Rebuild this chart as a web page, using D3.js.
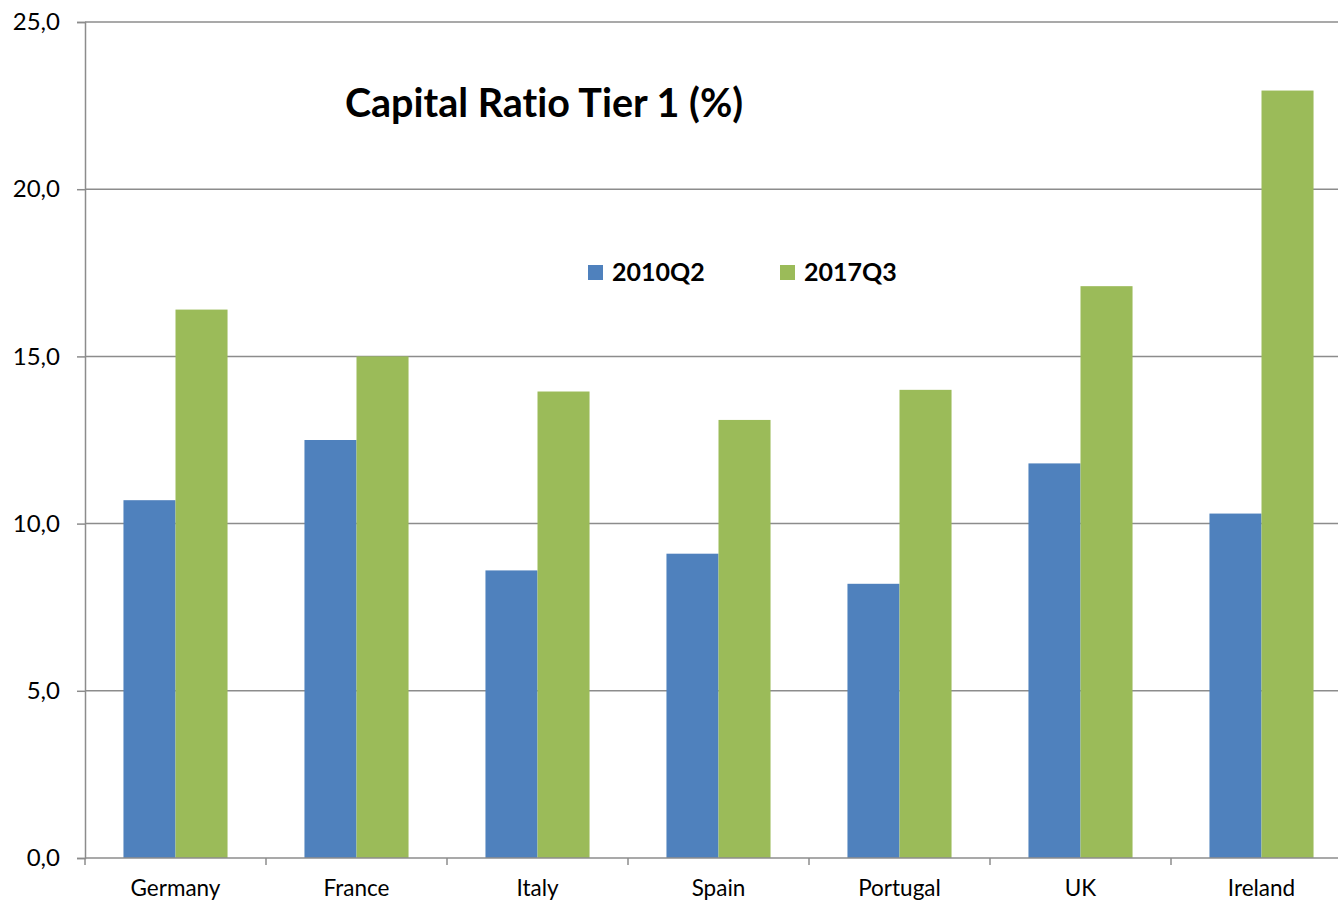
<!DOCTYPE html>
<html><head><meta charset="utf-8">
<script src="https://cdn.jsdelivr.net/npm/d3@7"></script>
<style>body{margin:0;background:#fff;}svg{display:block;font-family:Lato,"Open Sans",sans-serif;font-variant-ligatures:none;}</style>
</head><body>
<svg id="c" width="1338" height="902"></svg>
<script>
const categories = ["Germany","France","Italy","Spain","Portugal","UK","Ireland"];
const series2010Q2 = [10.7,12.5,8.6,9.1,8.2,11.8,10.3];
const series2017Q3 = [16.4,15.0,13.95,13.1,14.0,17.1,22.95];
const seriesNames = ["2010Q2","2017Q3"];
const seriesColors = ["#4f81bd","#9bbb59"];
const yTicks = [0,5,10,15,20,25];

const svg = d3.select("#c");
const pLeft = 85, pRight = 1352, pTop = 22, pBottom = 858;
const x = d3.scaleBand().domain(categories).range([pLeft,pRight]).paddingInner(0.425).paddingOuter(0.2125);
const xs = d3.scaleBand().domain(seriesNames).range([0,x.bandwidth()]);
const y = d3.scaleLinear().domain([0,25]).range([pBottom,pTop]);
const fmt = v => d3.format(".1f")(v).replace(".",",");

// gridlines
svg.append("g").selectAll("line").data(yTicks.filter(d=>d>0)).join("line")
  .attr("x1",pLeft).attr("x2",pRight).attr("y1",d=>y(d)).attr("y2",d=>y(d))
  .attr("stroke","#8c8c8c").attr("stroke-width",1.5);

// bars
const data = categories.map((c,i)=>({c, vals:[series2010Q2[i],series2017Q3[i]]}));
const g = svg.append("g");
data.forEach(d=>{
  d.vals.forEach((v,j)=>{
    g.append("rect").attr("x",x(d.c)+xs(seriesNames[j])).attr("width",xs.bandwidth())
     .attr("y",y(v)).attr("height",y(0)-y(v)).attr("fill",seriesColors[j]);
  });
});

// y axis
const ya = svg.append("g").attr("transform",`translate(${pLeft},0)`)
  .call(d3.axisLeft(y).tickValues(yTicks).tickFormat(fmt).tickSize(8).tickPadding(17));
ya.select(".domain").attr("stroke","#8c8c8c").attr("stroke-width",1.5);
ya.selectAll(".tick line").attr("stroke","#8c8c8c").attr("stroke-width",1.5);
ya.selectAll("text").attr("font-size",24).attr("fill","#000").attr("font-family","Lato");

// x axis
const step = x.step();
const xa = svg.append("g").attr("transform",`translate(0,${pBottom})`);
xa.append("line").attr("x1",pLeft).attr("x2",pRight).attr("stroke","#8c8c8c").attr("stroke-width",1.5);
const bounds = categories.map(c=>x(c)-step*x.paddingInner()/2).concat([pRight]);
xa.selectAll("line.t").data(bounds).join("line").attr("class","t")
  .attr("x1",d=>d).attr("x2",d=>d).attr("y1",0).attr("y2",7)
  .attr("stroke","#8c8c8c").attr("stroke-width",1.5);
xa.selectAll("text").data(categories).join("text")
  .attr("x",d=>x(d)+x.bandwidth()/2).attr("y",38).attr("text-anchor","middle")
  .attr("font-size",22.5).attr("fill","#000").text(d=>d);

// title
svg.append("text").attr("x",544).attr("y",117).attr("text-anchor","middle")
  .attr("font-size",39.5).attr("font-weight","bold").attr("fill","#000").text("Capital Ratio Tier 1 (%)");

// legend
const legX = [588,780];
seriesNames.forEach((n,j)=>{
  svg.append("rect").attr("x",legX[j]).attr("y",265).attr("width",15).attr("height",15).attr("fill",seriesColors[j]);
  svg.append("text").attr("x",legX[j]+24).attr("y",281).attr("font-size",25).attr("font-weight","bold").attr("fill","#000").text(n);
});
</script>
</body></html>
